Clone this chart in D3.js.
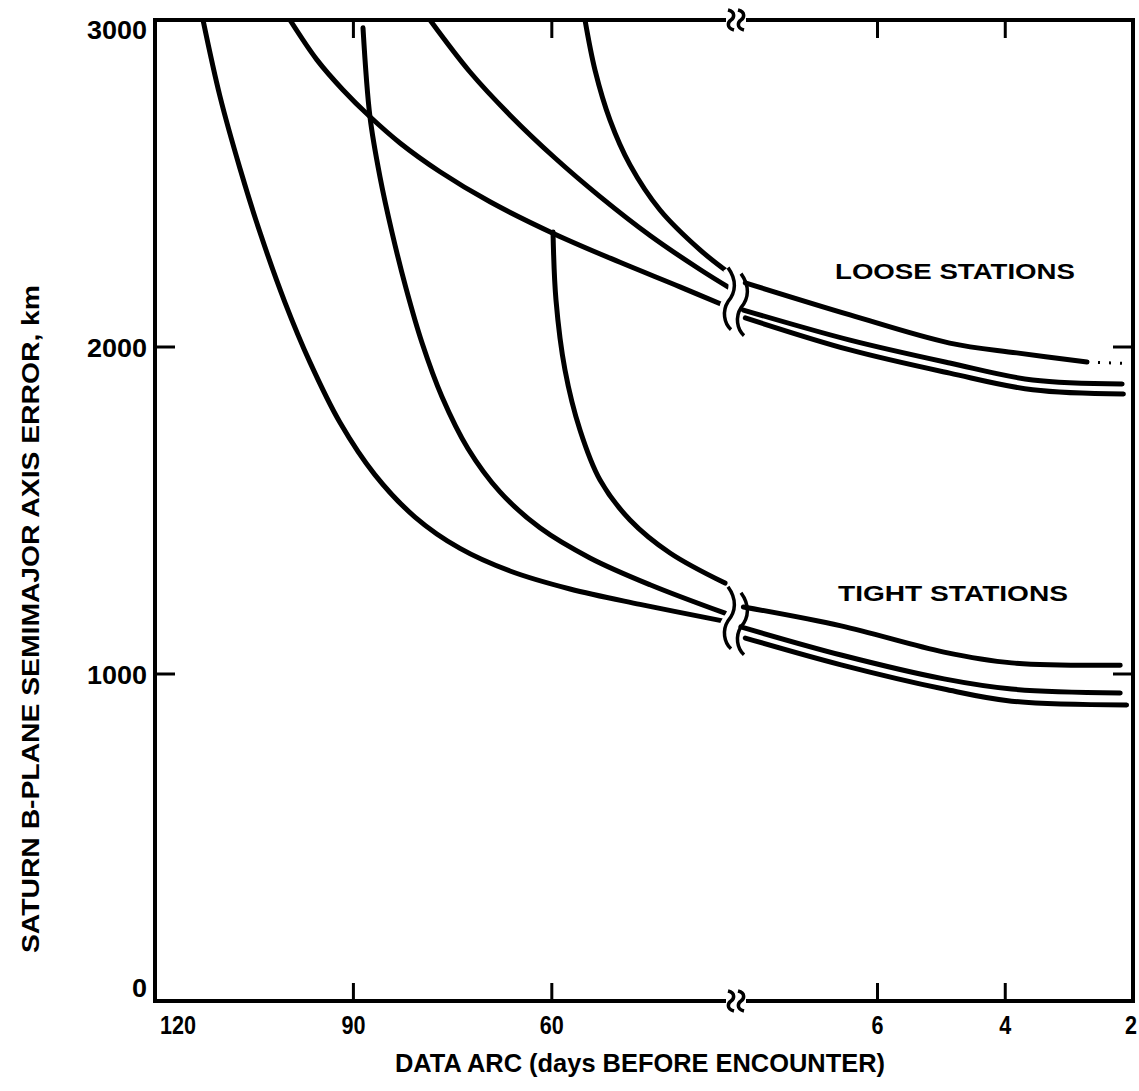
<!DOCTYPE html>
<html>
<head>
<meta charset="utf-8">
<script src="https://cdn.jsdelivr.net/npm/d3@7"></script>
<style>
  body { margin: 0; background: #fff; }
  text { font-family: "Liberation Sans", "DejaVu Sans", sans-serif; font-weight: bold; fill: #000; }
</style>
</head>
<body>
<svg width="1139" height="1091"></svg>
<script>
// days before encounter, km error
var leftTicks = [120, 90, 60];
var rightTicks = [6, 4, 2];
var yTicks = [0, 1000, 2000, 3000];

// left part of the broken axis (data arc 120..~33 days)
var tightD = [[112.74,3000],[110.17,2766],[107.15,2546],[104.12,2350],[100.34,2136],[96.56,1953],[92.03,1769],[86.74,1609],[80.69,1480],[73.88,1384],[66.32,1315],[57.25,1260],[46.67,1213],[33.81,1161]];
var tightE = [[88.55,2976],[87.49,2703],[85.98,2520],[84.17,2351],[82.05,2180],[79.63,2013],[76.61,1848],[72.67,1689],[67.84,1557],[61.79,1447],[54.23,1355],[45.15,1273],[33.81,1186]];
var tightF = [[59.82,2352],[59.37,2144],[58.01,1930],[55.74,1746],[52.71,1593],[48.18,1471],[42.13,1370],[33.81,1278]];
var looseA = [[99.59,3000],[95.51,2878],[91.57,2786],[87.49,2704],[82.96,2624],[76.91,2536],[69.35,2444],[59.52,2345],[49.69,2259],[40.62,2184],[33.81,2126]];
var looseB = [[78.42,3000],[72.37,2841],[66.32,2709],[59.52,2578],[52.71,2460],[45.15,2341],[37.59,2237],[33.06,2180]];
var looseC = [[54.98,3000],[53.47,2847],[51.2,2694],[48.18,2557],[43.64,2419],[37.59,2297],[33.36,2229]];

// right part of the broken axis (8..2 days)
var looseTop = [[8.07,2196],[6.43,2098],[4.87,2012],[3.82,1982],[2.72,1954]];
var looseMid = [[8.1,2113],[6.43,2021],[4.87,1951],[3.57,1899],[2.17,1887]];
var looseBot = [[8.07,2089],[6.43,1991],[4.87,1920],[3.57,1869],[2.15,1856]];
var looseTopDots = [[2.72,1954],[2.15,1950]];
var tightTop = [[8.1,1205],[6.57,1147],[4.96,1067],[3.9,1034],[2.2,1027]];
var tightMid = [[8.14,1144],[6.57,1058],[4.96,985],[3.9,954],[2.2,942]];
var tightBot = [[8.07,1110],[6.57,1028],[4.96,954],[3.9,917],[2.1,905]];

var svg = d3.select("svg");

var pL = 155, pR = 1133, pT = 20, pB = 1001, brk = 737;

var xL = d3.scaleLinear().domain([120, 32]).range([pL, brk]);
var xR = d3.scaleLinear().domain([8.2, 2]).range([brk, pR]);
var y = d3.scaleLinear().domain([0, 3000]).range([pB, pT]);

svg.append("clipPath").attr("id", "plot")
  .append("rect").attr("x", pL).attr("y", pT).attr("width", pR - pL).attr("height", pB - pT);

var lineL = d3.line().x(function(d) { return xL(d[0]); }).y(function(d) { return y(d[1]); }).curve(d3.curveCatmullRom.alpha(0.5));
var lineR = d3.line().x(function(d) { return xR(d[0]); }).y(function(d) { return y(d[1]); }).curve(d3.curveCatmullRom.alpha(0.5));

var g = svg.append("g").attr("clip-path", "url(#plot)");

g.selectAll("path.l")
    .data([tightD, tightE, tightF, looseA, looseB, looseC])
    .enter()
  .append("path")
    .attr("d", lineL)
    .attr("fill", "none")
    .attr("stroke", "#000")
    .attr("stroke-width", 5)
    .attr("stroke-linecap", "round");

g.selectAll("path.r")
    .data([looseTop, looseMid, looseBot, tightTop, tightMid, tightBot])
    .enter()
  .append("path")
    .attr("d", lineR)
    .attr("fill", "none")
    .attr("stroke", "#000")
    .attr("stroke-width", 5)
    .attr("stroke-linecap", "round");

g.append("path")
    .attr("d", lineR(looseTopDots))
    .attr("fill", "none")
    .attr("stroke", "#000")
    .attr("stroke-width", 3)
    .attr("stroke-dasharray", "2,9");

// curly break marks across the curves
function wave(x0, y0, h) {
  return "M" + x0 + "," + y0 +
    " C" + (x0 + 9) + "," + (y0 + h * 0.2) + " " + (x0 + 8) + "," + (y0 + h * 0.4) + " " + x0 + "," + (y0 + h * 0.55) +
    " C" + (x0 - 6) + "," + (y0 + h * 0.7) + " " + (x0 - 4) + "," + (y0 + h * 0.9) + " " + (x0 + 3) + "," + (y0 + h);
}
[[y(2200) - 14, 62], [y(1230) - 12, 62]].forEach(function(b) {
  svg.append("path").attr("d", wave(brk - 9, b[0], b[1]))
    .attr("fill", "none").attr("stroke", "#fff").attr("stroke-width", 12);
  svg.append("path").attr("d", wave(brk - 9, b[0], b[1]))
    .attr("fill", "none").attr("stroke", "#000").attr("stroke-width", 3.5);
  svg.append("path").attr("d", wave(brk + 4, b[0] + 6, b[1]))
    .attr("fill", "none").attr("stroke", "#000").attr("stroke-width", 3.5);
});

// frame
svg.append("rect")
    .attr("x", pL).attr("y", pT)
    .attr("width", pR - pL).attr("height", pB - pT)
    .attr("fill", "none").attr("stroke", "#000").attr("stroke-width", 4);

// inner ticks
var xt = leftTicks.slice(1).map(xL).concat(rightTicks.slice(0, 2).map(xR));
xt.forEach(function(x) {
  svg.append("line").attr("x1", x).attr("x2", x).attr("y1", pB).attr("y2", pB - 18).attr("stroke", "#000").attr("stroke-width", 3);
  svg.append("line").attr("x1", x).attr("x2", x).attr("y1", pT).attr("y2", pT + 18).attr("stroke", "#000").attr("stroke-width", 3);
});
[1000, 2000].forEach(function(v) {
  svg.append("line").attr("x1", pL).attr("x2", pL + 20).attr("y1", y(v)).attr("y2", y(v)).attr("stroke", "#000").attr("stroke-width", 3);
  svg.append("line").attr("x1", pR).attr("x2", pR - 20).attr("y1", y(v)).attr("y2", y(v)).attr("stroke", "#000").attr("stroke-width", 3);
});

// axis break marks on frame
[pT, pB].forEach(function(yy) {
  svg.append("rect").attr("x", brk - 11).attr("y", yy - 4).attr("width", 20).attr("height", 8).attr("fill", "#fff");
  [brk - 6, brk + 4].forEach(function(x0) {
    svg.append("path")
      .attr("d", "M" + (x0 - 3) + "," + (yy - 10) + " C" + (x0 + 5) + "," + (yy - 8) + " " + (x0 + 3) + "," + (yy - 2) + " " + x0 + "," + yy +
                 " C" + (x0 - 3) + "," + (yy + 2) + " " + (x0 - 5) + "," + (yy + 8) + " " + (x0 + 3) + "," + (yy + 10))
      .attr("fill", "none").attr("stroke", "#000").attr("stroke-width", 3.5);
  });
});

// tick labels
var xlab = svg.append("g").attr("font-size", 26);
leftTicks.forEach(function(t) {
  xlab.append("text").attr("x", t === 120 ? xL(t) + 23 : xL(t)).attr("y", 1034).attr("text-anchor", "middle")
    .attr("textLength", String(t).length * 12).attr("lengthAdjust", "spacingAndGlyphs").text(t);
});
rightTicks.forEach(function(t) {
  xlab.append("text").attr("x", t === 2 ? xR(t) - 2 : xR(t)).attr("y", 1034).attr("text-anchor", "middle")
    .attr("textLength", 12).attr("lengthAdjust", "spacingAndGlyphs").text(t);
});
yTicks.forEach(function(t) {
  var by = t === 3000 ? 39 : (t === 0 ? 997 : y(t) + 10);
  svg.append("text").attr("x", 147).attr("y", by)
    .attr("text-anchor", "end").attr("font-size", 26)
    .attr("textLength", String(t).length * 15).attr("lengthAdjust", "spacingAndGlyphs").text(t);
});

svg.append("text").attr("x", 640).attr("y", 1072).attr("text-anchor", "middle").attr("font-size", 25)
  .attr("textLength", 490).attr("lengthAdjust", "spacingAndGlyphs")
  .text("DATA ARC (days BEFORE ENCOUNTER)");
svg.append("text").attr("transform", "translate(39,619) rotate(-90)").attr("text-anchor", "middle").attr("font-size", 24)
  .attr("textLength", 668).attr("lengthAdjust", "spacingAndGlyphs")
  .text("SATURN B-PLANE SEMIMAJOR AXIS ERROR, km");

svg.append("text").attr("x", 955).attr("y", 279).attr("text-anchor", "middle").attr("font-size", 22)
  .attr("textLength", 240).attr("lengthAdjust", "spacingAndGlyphs").text("LOOSE STATIONS");
svg.append("text").attr("x", 953).attr("y", 601).attr("text-anchor", "middle").attr("font-size", 22)
  .attr("textLength", 230).attr("lengthAdjust", "spacingAndGlyphs").text("TIGHT STATIONS");
</script>
</body>
</html>
